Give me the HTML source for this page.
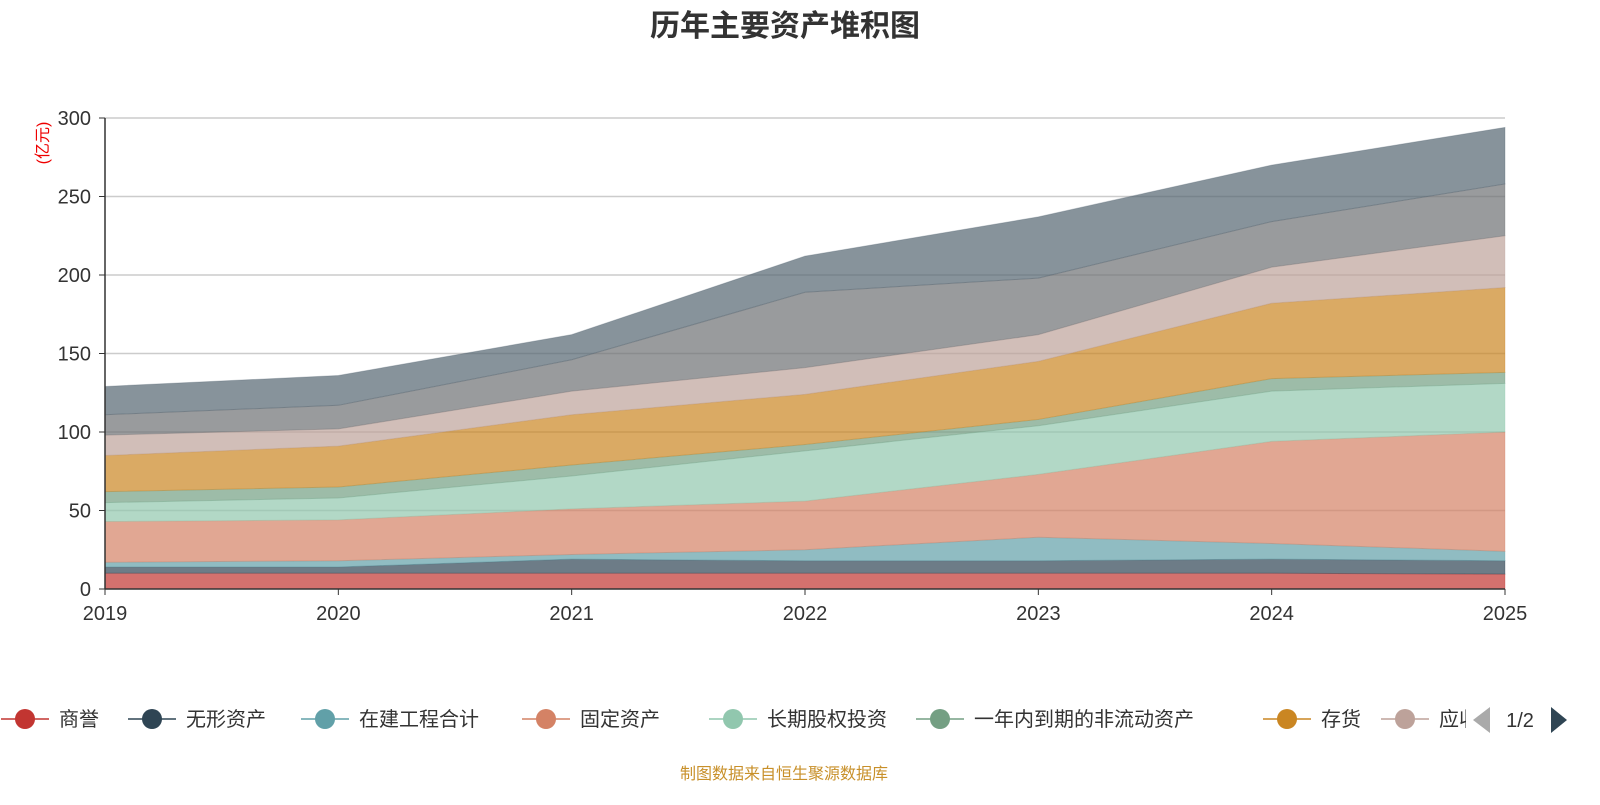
<!DOCTYPE html>
<html><head><meta charset="utf-8"><style>
body{margin:0;background:#fff;font-family:"Liberation Sans","Noto Sans CJK SC",sans-serif;}
svg text{font-family:"Liberation Sans","Noto Sans CJK SC",sans-serif;}
</style></head><body>
<svg id="chart" width="1600" height="800" xmlns="http://www.w3.org/2000/svg">
<text x="785" y="36" text-anchor="middle" font-size="30" font-weight="bold" fill="#333">历年主要资产堆积图</text>
<text transform="translate(48,143) rotate(-90)" text-anchor="middle" font-size="16" fill="#e00">(亿元)</text>
<g id="grid"></g><g id="areas"></g><g id="axes"></g><g id="legend"></g>
<text x="784" y="779" text-anchor="middle" font-size="16" fill="#c8902a">制图数据来自恒生聚源数据库</text>
</svg>
<script>
const years=["2019","2020","2021","2022","2023","2024","2025"];
const yTicks=[0,50,100,150,200,250,300];
const names=["商誉","无形资产","在建工程合计","固定资产","长期股权投资","一年内到期的非流动资产","存货","应收账款","其他资产A","其他资产B"];
const colors=["#c23531","#2f4554","#61a0a8","#d48265","#91c7ae","#749f83","#ca8622","#bda29a","#6e7074","#546570"];
const s0=[10,10,10,10,10,10,9.5];
const s1=[4,4,9,8,8,9,8.5];
const s2=[3,4,3,7,15,10,6];
const s3=[26,26,29,31,40,65,76];
const s4=[12,14,21,32,31,32,31];
const s5=[7,7,7,4,4,8,7];
const s6=[23,26,32,32,37,48,54];
const s7=[13,11,15,17,17,23,33];
const s8=[13,15,20,48,36,29,33];
const s9=[18,19,16,23,39,36,36];
const series=[s0,s1,s2,s3,s4,s5,s6,s7,s8,s9];
const NS="http://www.w3.org/2000/svg";
const x0=105,x1=1505,yb=589,yt=118,ymax=300;
const X=i=>x0+(x1-x0)*i/(years.length-1);
const Y=v=>yb-(yb-yt)*v/ymax;
function mk(tag,attrs,parent){const e=document.createElementNS(NS,tag);for(const k in attrs)e.setAttribute(k,attrs[k]);parent.appendChild(e);return e;}
const grid=document.getElementById('grid'),axes=document.getElementById('axes'),areas=document.getElementById('areas'),legend=document.getElementById('legend');
yTicks.forEach(t=>{
 if(t>0){const l=mk('line',{x1:x0,x2:x1,y1:Y(t),y2:Y(t),stroke:'#ccc','stroke-width':1.5},grid);
 
 }
 const tx=mk('text',{x:x0-14,y:Y(t)+7,'text-anchor':'end','font-size':20,fill:'#333'},axes);tx.textContent=t;
 
 
 mk('line',{x1:x0-6,x2:x0,y1:Y(t),y2:Y(t),stroke:'#333'},axes);
});
let cum=years.map(()=>0);
series.forEach((s,k)=>{
 const lo=cum.slice();cum=cum.map((c,i)=>c+s[i]);
 let d='M'+years.map((_,i)=>X(i)+','+Y(cum[i])).join(' L');
 for(let i=years.length-1;i>=0;i--)d+=' L'+X(i)+','+Y(lo[i]);
 const p=mk('path',{d:d+'Z',fill:colors[k],'fill-opacity':0.7,stroke:colors[k],'stroke-opacity':0.3,'stroke-width':1},areas);
 
 
});
mk('line',{x1:x0,x2:x0,y1:yt,y2:yb,stroke:'#333','stroke-width':1.5},axes);
mk('line',{x1:x0,x2:x1,y1:yb,y2:yb,stroke:'#333','stroke-width':1.5},axes);
years.forEach((y,i)=>{
 mk('line',{x1:X(i),x2:X(i),y1:yb,y2:yb+6,stroke:'#333'},axes);
 const t=mk('text',{x:X(i),y:yb+31,'text-anchor':'middle','font-size':20,fill:'#333'},axes);t.textContent=y;
 
 
});
const lx=[25,152,325,546,733,940,1287,1405];
const clip=mk('clipPath',{id:'lc'},legend);mk('rect',{x:0,y:690,width:1466,height:60},clip);
const lg=mk('g',{'clip-path':'url(#lc)'},legend);
lx.forEach((x,k)=>{
 const g=mk('g',{},lg);
 
 
 mk('line',{x1:x-24,x2:x+24,y1:719,y2:719,stroke:colors[k],'stroke-width':1.5},g);
 mk('circle',{cx:x,cy:719,r:10,fill:colors[k]},g);
 const t=mk('text',{x:x+34,y:726,'font-size':20,fill:'#333'},g);t.textContent=names[k];
});
const pl=mk('path',{d:'M1490,707 L1490,733 L1473,720Z',fill:'#aaa'},legend);


const pt=mk('text',{x:1520,y:727,'text-anchor':'middle','font-size':20,fill:'#333'},legend);pt.textContent='1/2';


const pn=mk('path',{d:'M1551,707 L1551,733 L1567,720Z',fill:'#2f4554'},legend);


</script>
</body></html>
